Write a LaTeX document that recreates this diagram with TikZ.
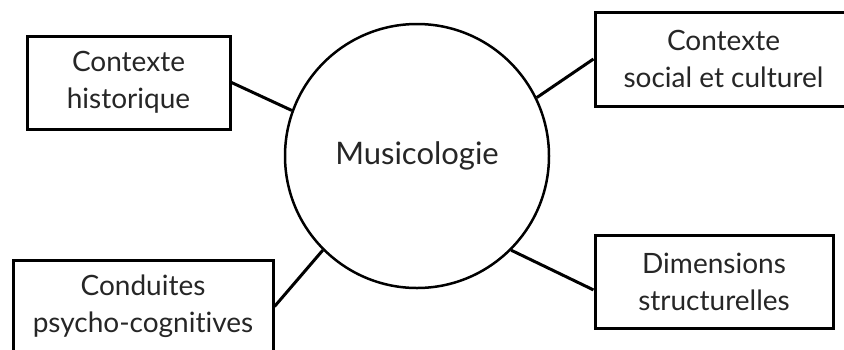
\documentclass[tikz,border=0pt]{standalone}
\usepackage{fontspec}
\setmainfont{Lato}[Ligatures=NoCommon]
\begin{document}
\begin{tikzpicture}[x=1pt,y=-1pt,
  topic/.style={draw=black, line width=3pt, fill=white, inner sep=0pt, align=center,
    text=black!85, font=\fontsize{28}{37}\selectfont},
  link/.style={draw=black, line width=3pt}]
\useasboundingbox (0,0) rectangle (844,349);
\clip (0,0) rectangle (844,349);
\fill[white] (0,0) rectangle (844,349);
\node[circle, draw=black, line width=2.5pt, minimum size=264pt, inner sep=0pt,
  text=black!85, font=\fontsize{31}{37}\selectfont] (m) at (417,156) {Musicologie};
\node[topic, minimum width=203pt, minimum height=93pt] (b1) at (128.5,82.5) {Contexte\\historique};
\node[topic, minimum width=257pt, minimum height=94pt] (b2) at (723.5,59) {Contexte\\social et culturel};
\node[topic, minimum width=260pt, minimum height=93pt] (b3) at (143,306.5) {Conduites\\psycho-cognitives};
\node[topic, minimum width=238pt, minimum height=93pt] (b4) at (714,281.5) {Dimensions\\structurelles};
\draw[link] (b1.east) -- (m.160);
\draw[link] (b2.west) -- (m.26);
\draw[link] (b3.east) -- (m.225.6);
\draw[link] (b4.184) -- (m.315.3);
\end{tikzpicture}
\end{document}
